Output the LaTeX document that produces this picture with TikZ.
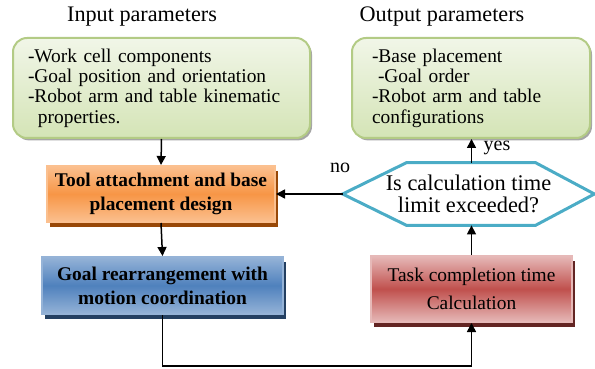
\documentclass[tikz,border=0pt]{standalone}
\usepackage{fontspec}
\setmainfont{Liberation Serif}
\usepackage{xcolor}
\usepackage{tikz}
\usetikzlibrary{shadows}
\usetikzlibrary{arrows.meta}
\usetikzlibrary{calc}
\definecolor{paramline}{HTML}{B3CB85}
\definecolor{paramtop}{HTML}{F1F6E8}
\definecolor{parambot}{HTML}{D4E4B6}
\definecolor{toolmid}{HTML}{F79646}
\definecolor{toolline}{HTML}{FBC08F}
\definecolor{toolshadow}{HTML}{984807}
\definecolor{goalmid}{HTML}{4F81BD}
\definecolor{goalline}{HTML}{95B3D7}
\definecolor{goalshadow}{HTML}{244062}
\definecolor{taskmid}{HTML}{C0504D}
\definecolor{taskline}{HTML}{E6B9B8}
\definecolor{taskshadow}{HTML}{632523}
\definecolor{hexline}{HTML}{4BACC6}
\tikzset{headtext/.style={font=\fontsize{11.1}{13}\selectfont, inner sep=0pt},
  parambox/.style={rounded corners=7pt, draw=paramline, line width=1pt, top color=paramtop, bottom color=parambot,
    drop shadow={shadow xshift=1pt, shadow yshift=-1.2pt, fill=black!35, opacity=1},
    align=left, inner xsep=#1, inner ysep=0pt, minimum height=50pt, font=\fontsize{9.7}{10.2}\selectfont},
  parambox/.default={7.5pt},
  flowbox/.style={draw=#1line, line width=1pt, top color=#1line, bottom color=#1line, middle color=#1mid,
    drop shadow={shadow xshift=1.5pt, shadow yshift=-2.5pt, fill=#1shadow, opacity=1},
    align=center, inner sep=0pt},
  arrow/.style={line width=0.75pt, -{Triangle[length=4.5pt, width=4.5pt]}}}

\begin{document}
\begin{tikzpicture}[x=0.5pt, y=-0.5pt]
\useasboundingbox (0,0) rectangle (595,369);
 % titles
 \node[headtext] (intitle) at (142,17) {Input parameters};
 \node[headtext] (outtitle) at (442,17) {Output parameters};
 % parameter boxes
 \node[parambox, minimum width=148.5pt, text width=133.5pt] (inbox) at (161.5,88)
   {-Work cell components\\-Goal position and orientation\\-Robot arm and table kinematic\\\hspace*{5pt}properties.};
 \node[parambox=10pt, minimum width=119pt, text width=99pt] (outbox) at (471,88)
   {-Base placement\\\hspace*{3pt}-Goal order\\-Robot arm and table\\configurations};
 % process boxes
 \node[flowbox=tool, minimum width=114pt, minimum height=28pt, font=\fontsize{9.7}{12}\selectfont\bfseries] (tool) at (161,194)
   {Tool attachment and base\\placement design};
 \node[flowbox=goal, minimum width=120.5pt, minimum height=28.5pt, font=\fontsize{9.7}{12}\selectfont\bfseries] (goal) at (162.5,285.5)
   {Goal rearrangement with\\motion coordination};
 \node[flowbox=task, minimum width=100.5pt, minimum height=33pt, font=\fontsize{9.7}{14}\selectfont] (task) at (471.5,289)
   {Task completion time\\Calculation};
 % decision
 \node[minimum width=125.5pt, minimum height=31pt, inner sep=0pt, align=center, font=\fontsize{11.2}{11}\selectfont] (limit) at (468.5,194)
   {Is calculation time\\limit exceeded?};
 \draw[hexline, line width=1.5pt] (limit.west) -- ($(limit.north west)+(64,0)$) -- ($(limit.north east)+(-59,0)$) -- (limit.east)
   -- ($(limit.south east)+(-59,0)$) -- ($(limit.south west)+(64,0)$) -- cycle;
 % connectors
 \draw[arrow] (inbox.south) -- (tool.north);
 \draw[arrow] (tool.south) -- (goal.north);
 \draw[arrow] (goal.south) -- ++(0,51) -| (task.south);
 \draw[arrow] (task.north) -- (task.north |- limit.south);
 \draw[arrow] (task.north |- limit.north) -- (task.north |- outbox.south);
 \draw[arrow] (limit.west) -- (tool.east);
 \node[font=\fontsize{10}{12}\selectfont] (nolabel) at (340,168) {no};
 \node[font=\fontsize{10}{12}\selectfont] (yeslabel) at (497,148) {yes};
\end{tikzpicture}
\end{document}
